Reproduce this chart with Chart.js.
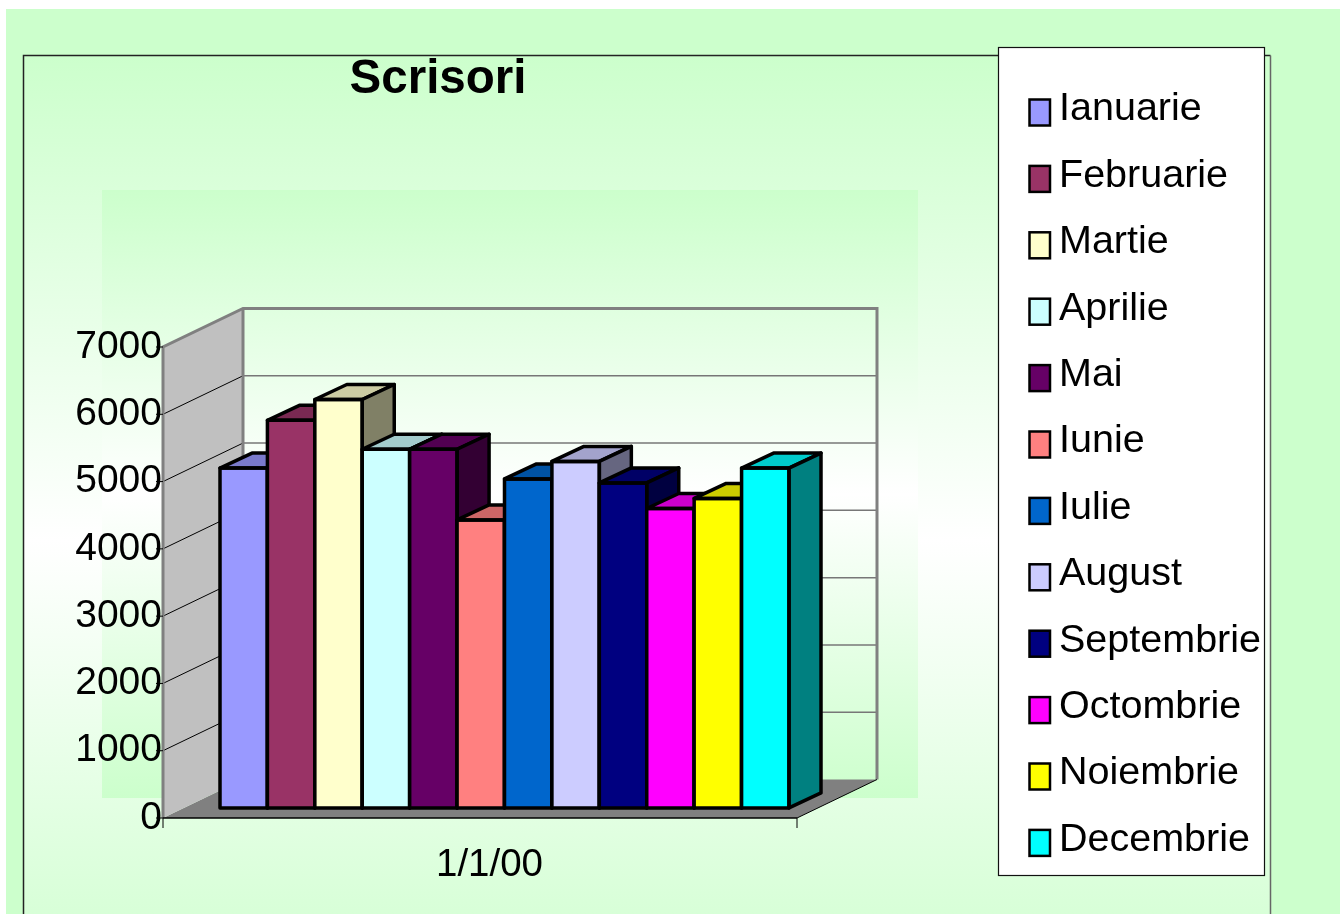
<!DOCTYPE html>
<html>
<head>
<meta charset="utf-8">
<title>Scrisori</title>
<script src="https://cdn.jsdelivr.net/npm/chart.js@4.4.1/dist/chart.umd.min.js"></script>
<style>
  html, body { margin: 0; padding: 0; background: #fff; }
  canvas { display: block; }
</style>
</head>
<body>
<canvas id="chart" width="1340" height="914"></canvas>
<script>
'use strict';

const categories = ['1/1/00'];
const months = ['Ianuarie', 'Februarie', 'Martie', 'Aprilie', 'Mai', 'Iunie',
  'Iulie', 'August', 'Septembrie', 'Octombrie', 'Noiembrie', 'Decembrie'];
const letters = [5050, 5760, 6070, 5330, 5330, 4280, 4890, 5150, 4830, 4450, 4600, 5050];
const yTicks = [0, 1000, 2000, 3000, 4000, 5000, 6000, 7000];

const colors = ['#9999ff', '#993366', '#ffffcc', '#ccffff', '#660066', '#ff8080',
  '#0066cc', '#ccccff', '#000080', '#ff00ff', '#ffff00', '#00ffff'];

const FONT = "'Liberation Sans', Arial, sans-serif";
const BAR_DEPTH = {x: 32, y: -15};
const WALL_DEPTH = {x: 80, y: -38.5};

Chart.defaults.font.family = FONT;
Chart.defaults.color = '#000';

function shade(hex, f) {
  const n = parseInt(hex.slice(1), 16);
  const r = Math.round(((n >> 16) & 255) * f);
  const g = Math.round(((n >> 8) & 255) * f);
  const b = Math.round((n & 255) * f);
  return `rgb(${r},${g},${b})`;
}

function poly(ctx, pts) {
  ctx.beginPath();
  ctx.moveTo(pts[0][0], pts[0][1]);
  for (let i = 1; i < pts.length; i++) ctx.lineTo(pts[i][0], pts[i][1]);
  ctx.closePath();
}

function line(ctx, x1, y1, x2, y2) {
  ctx.beginPath();
  ctx.moveTo(x1, y1);
  ctx.lineTo(x2, y2);
  ctx.stroke();
}

// background, walls, floor and gridlines
const scenery = {
  id: 'scenery',
  beforeDraw(chart) {
    const ctx = chart.ctx;
    const ca = chart.chartArea;
    const y = chart.scales.y;
    ctx.save();

    ctx.fillStyle = '#fff';
    ctx.fillRect(0, 0, chart.width, chart.height);
    ctx.fillStyle = '#ccffcc';
    ctx.fillRect(6, 9, chart.width - 6, chart.height - 9);

    let g = ctx.createLinearGradient(0, 55, 0, 1025);
    g.addColorStop(0, '#ccffcc');
    g.addColorStop(0.5, '#ffffff');
    g.addColorStop(1, '#ccffcc');
    ctx.fillStyle = g;
    ctx.fillRect(24, 55, 1247, chart.height - 55);

    g = ctx.createLinearGradient(0, 190, 0, 798);
    g.addColorStop(0, '#ccffcc');
    g.addColorStop(0.5, '#ffffff');
    g.addColorStop(1, '#ccffcc');
    ctx.fillStyle = g;
    ctx.fillRect(102, 190, 816, 608);

    ctx.lineWidth = 1.5;
    ctx.strokeStyle = '#222';
    ctx.beginPath();
    ctx.moveTo(23.5, chart.height);
    ctx.lineTo(23.5, 55.5);
    ctx.lineTo(1270.5, 55.5);
    ctx.stroke();
    ctx.strokeStyle = '#666';
    line(ctx, 1270.5, 55.5, 1270.5, chart.height);

    const x0 = ca.left - 57;
    const x1 = ca.right + 8;
    const dx = WALL_DEPTH.x, dy = WALL_DEPTH.y;
    const fy = v => y.getPixelForValue(v);
    const vmax = yTicks[yTicks.length - 1];
    const top = fy(vmax), bot = fy(0);

    // floor
    ctx.fillStyle = '#808080';
    poly(ctx, [[x0, bot], [x1, bot], [x1 + dx, bot + dy], [x0 + dx, bot + dy]]);
    ctx.fill();

    // left wall
    ctx.fillStyle = '#c0c0c0';
    poly(ctx, [[x0, bot], [x0, top], [x0 + dx, top + dy], [x0 + dx, bot + dy]]);
    ctx.fill();

    // gridlines
    yTicks.slice(1, -1).forEach(v => {
      ctx.strokeStyle = '#777';
      ctx.lineWidth = 1.5;
      line(ctx, x0 + dx, fy(v) + dy, x1 + dx, fy(v) + dy);
      ctx.strokeStyle = '#000';
      ctx.lineWidth = 1;
      line(ctx, x0, fy(v), x0 + dx, fy(v) + dy);
    });

    // wall edges
    ctx.strokeStyle = '#808080';
    ctx.lineWidth = 3;
    ctx.lineJoin = 'miter';
    ctx.beginPath();
    ctx.moveTo(x0, bot);
    ctx.lineTo(x0, top);
    ctx.lineTo(x0 + dx, top + dy);
    ctx.lineTo(x1 + dx, top + dy);
    ctx.lineTo(x1 + dx, bot + dy);
    ctx.stroke();
    line(ctx, x0 + dx, top + dy, x0 + dx, bot + dy);

    // axis lines and ticks
    ctx.strokeStyle = '#000';
    ctx.lineWidth = 1.5;
    line(ctx, x0, bot, x1, bot);
    ctx.lineWidth = 1;
    line(ctx, x1, bot, x1 + dx, bot + dy);
    line(ctx, x0, bot, x0, bot + 10);
    line(ctx, x1, bot, x1, bot + 10);
    yTicks.forEach(v => line(ctx, x0 - 7, fy(v), x0, fy(v)));

    ctx.restore();
  }
};

// bars drawn left to right, each one with its top and side faces
const bars3d = {
  id: 'bars3d',
  beforeDatasetsDraw(chart) {
    const ctx = chart.ctx;
    const dx = BAR_DEPTH.x, dy = BAR_DEPTH.y;
    chart.data.datasets.forEach((ds, i) => {
      const meta = chart.getDatasetMeta(i);
      meta.data.forEach(bar => {
        bar.draw(ctx);
        const {x, y, base, width} = bar.getProps(['x', 'y', 'base', 'width'], true);
        const L = x - width / 2, R = x + width / 2, T = y, B = base;
        ctx.save();
        ctx.lineWidth = 3.5;
        ctx.lineJoin = 'round';
        ctx.strokeStyle = '#000';

        poly(ctx, [[L, T], [R, T], [R + dx, T + dy], [L + dx, T + dy]]);
        ctx.fillStyle = shade(ds.backgroundColor, 0.8);
        ctx.fill();
        ctx.stroke();

        poly(ctx, [[R, T], [R + dx, T + dy], [R + dx, B + dy], [R, B]]);
        ctx.fillStyle = shade(ds.backgroundColor, 0.5);
        ctx.fill();
        ctx.stroke();

        ctx.strokeRect(L, T, R - L, B - T);
        ctx.restore();
      });
    });
    return false;
  }
};

// title and boxed legend
const legendBox = {
  id: 'legendBox',
  afterDraw(chart) {
    const ctx = chart.ctx;
    ctx.save();

    ctx.fillStyle = '#000';
    ctx.font = `bold 47.5px ${FONT}`;
    ctx.textAlign = 'center';
    ctx.textBaseline = 'middle';
    ctx.fillText('Scrisori', 438, 80);

    ctx.fillStyle = '#fff';
    ctx.fillRect(998, 47, 267, 829);
    ctx.strokeStyle = '#111';
    ctx.lineWidth = 1.2;
    ctx.strokeRect(998.5, 47.5, 266, 828);

    ctx.font = `39.5px ${FONT}`;
    ctx.textAlign = 'left';
    chart.data.datasets.forEach((ds, i) => {
      const cy = 112.5 + i * 66.4;
      ctx.fillStyle = ds.backgroundColor;
      ctx.fillRect(1029.5, cy - 13, 20.5, 26);
      ctx.lineWidth = 2.5;
      ctx.strokeStyle = '#000';
      ctx.strokeRect(1029.5, cy - 13, 20.5, 26);
      ctx.fillStyle = '#000';
      ctx.fillText(ds.label, 1059, cy - 3);
    });
    ctx.restore();
  }
};

new Chart(document.getElementById('chart'), {
  type: 'bar',
  data: {
    labels: categories,
    datasets: months.map((m, i) => ({
      label: m,
      data: [letters[i]],
      backgroundColor: colors[i],
      borderWidth: 0,
      categoryPercentage: 1,
      barPercentage: 1,
      yAxisID: 'yb'
    }))
  },
  options: {
    responsive: false,
    animation: false,
    events: [],
    layout: {padding: {left: 0, right: 551, top: 347, bottom: 0}},
    plugins: {
      legend: {display: false},
      title: {display: false},
      tooltip: {enabled: false}
    },
    scales: {
      x: {
        grid: {display: false, drawTicks: false},
        border: {display: false},
        ticks: {font: {size: 38.5}, padding: 24, labelOffset: -15},
        afterFit(s) { s.height = 96; }
      },
      y: {
        min: 0,
        max: 7000,
        grid: {display: false, drawTicks: false},
        border: {display: false},
        ticks: {font: {size: 39}, padding: 58, callback: v => String(v)},
        afterBuildTicks(s) { s.ticks = yTicks.map(v => ({value: v})); },
        afterFit(s) { s.width = 220; }
      },
      yb: {display: false, min: -150, max: 6850}
    }
  },
  plugins: [scenery, bars3d, legendBox]
});
</script>
</body>
</html>
